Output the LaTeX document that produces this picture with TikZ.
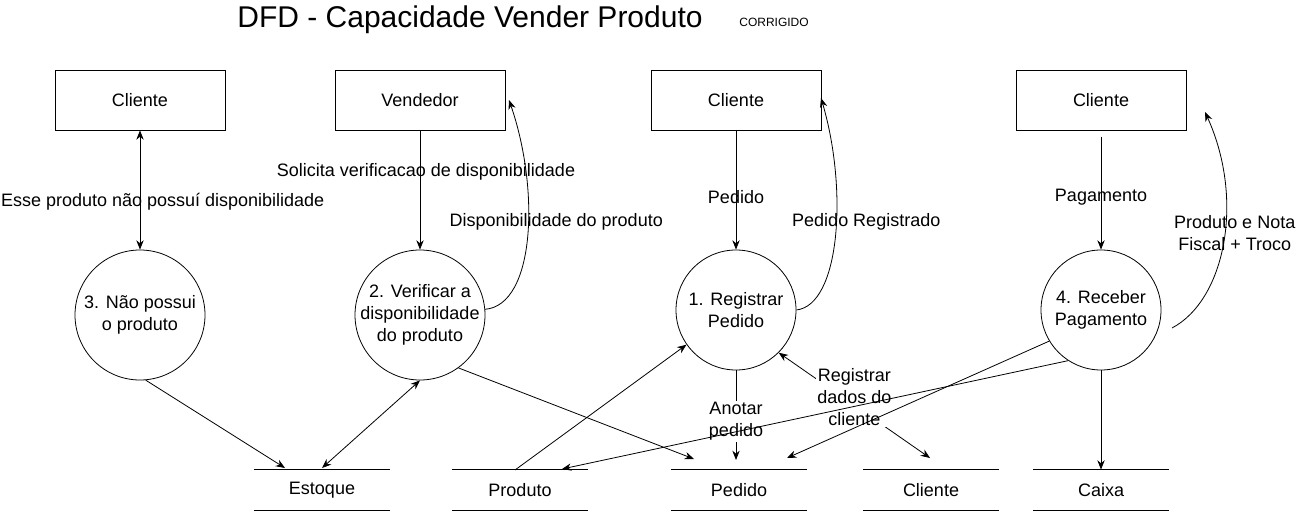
\documentclass[tikz,border=0pt]{standalone}
\usepackage{fontspec}
\setmainfont{Liberation Sans}
\usetikzlibrary{arrows.meta}

\tikzset{
  ent/.style={draw, minimum width=127.5pt, minimum height=45pt, inner sep=0pt},
  proc/.style={draw, circle, inner sep=-8pt, align=center},
  store/.style={minimum width=101.25pt, minimum height=30pt, inner sep=0pt},
  lbl/.style={align=center, inner sep=1pt},
}

\begin{document}
\begin{tikzpicture}[x=0.75pt, y=-0.75pt, line width=0.6pt,
    font=\fontsize{13.5pt}{16.5pt}\selectfont,
    >={Stealth[length=7pt,width=5.5pt]}]
    \useasboundingbox (0,0) rectangle (1301,513);

    % title
    \node[font=\fontsize{22.5pt}{27pt}\selectfont] (title) at (470,20) {DFD - Capacidade Vender Produto};
    \node[font=\fontsize{9pt}{11pt}\selectfont] (corr) at (774,22) {CORRIGIDO};

    % external entities
    \node[ent] (cli1) at (140,100) {Cliente};
    \node[ent] (vend) at (420,100) {Vendedor};
    \node[ent] (cli2) at (736,100) {Cliente};
    \node[ent] (cli3) at (1101,100) {Cliente};

    % processes
    \node[proc, minimum size=97.5pt] (p3) at (140,315) {3. Não possui\\o produto};
    \node[proc, minimum size=97.5pt] (p2) at (420,315) {2. Verificar a\\disponibilidade\\do produto};
    \node[proc, minimum size=90pt] (p1) at (736,310) {1. Registrar\\Pedido};
    \node[proc, minimum size=90pt] (p4) at (1101,310) {4. Receber\\Pagamento};

    % data stores
    \node[store] (estoque) at (322,490) {Estoque};
    \node[store] (produto) at (520,490) {Produto};
    \node[store] (pedido) at (739,490) {Pedido};
    \node[store] (cliente) at (931,490) {Cliente};
    \node[store] (caixa) at (1101,490) {Caixa};
    \draw (estoque.north west) -- (estoque.north east) (estoque.south west) -- (estoque.south east);
    \draw (produto.north west) -- (produto.north east) (produto.south west) -- (produto.south east);
    \draw (pedido.north west) -- (pedido.north east) (pedido.south west) -- (pedido.south east);
    \draw (cliente.north west) -- (cliente.north east) (cliente.south west) -- (cliente.south east);
    \draw (caixa.north west) -- (caixa.north east) (caixa.south west) -- (caixa.south east);

    % loose ends
    \coordinate (venR) at (509,100);
    \coordinate (cl2R) at (821,98);
    \coordinate (cl3R) at (1205,112);
    \coordinate (pgs) at (1101,137);
    \coordinate (p4s) at (1172,328);
    \coordinate (estA) at (285,468);
    \coordinate (estB) at (322,468);
    \coordinate (pedA) at (694,459);
    \coordinate (pedB) at (736,460);
    \coordinate (pedC) at (787,458);
    \coordinate (prdA) at (515,470);
    \coordinate (prdB) at (562,469);
    \coordinate (cliB) at (930,458);

    % flows, top
    \draw[<->] (cli1) -- (p3) node[lbl, pos=0.6, xshift=17pt] {Esse produto não possuí disponibilidade};
    \draw[->] (vend) -- (p2) node[lbl, pos=0.35, xshift=4.5pt] {Solicita verificacao de disponibilidade};
    \draw[->] (p2.5) .. controls (535,305) and (540,190) .. (venR) node[lbl, pos=0.56, xshift=21pt] {Disponibilidade do produto};
    \draw[->] (cli2) -- (p1) node[lbl, pos=0.56] {Pedido};
    \draw[->] (p1.east) .. controls (840,305) and (848,190) .. (cl2R) node[lbl, pos=0.56, xshift=22.5pt] {Pedido Registrado};
    \draw[->] (pgs) -- (p4) node[lbl, pos=0.53] {Pagamento};
    \draw[->] (p4s) .. controls (1225,300) and (1245,200) .. (cl3R) node[lbl, pos=0.54, xshift=7.5pt] {Produto e Nota\\Fiscal + Troco};

    % flows, bottom
    \draw[->] (p3.-85) -- (estA);
    \draw[<->] (p2.south) -- (estB);
    \draw[->] (p2.-54) -- (pedA);
    \draw[->] (prdA) -- (p1.215);
    \draw[->] (p1.south) -- (pedB) node[lbl, fill=white, pos=0.57] {Anotar\\pedido};
    \draw[<->] (p1.-45) -- (cliB) node[lbl, fill=white, pos=0.5, yshift=6pt] {Registrar\\dados do\\cliente};
    \draw[->] (p4.211) -- (pedC);
    \draw[->] (p4.237) -- (prdB);
    \draw[->] (p4.south) -- (caixa.north);
\end{tikzpicture}
\end{document}
